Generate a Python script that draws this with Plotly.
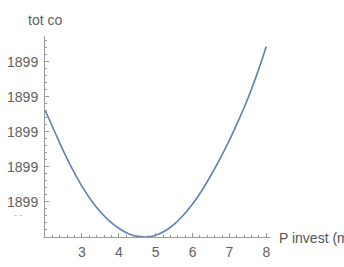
import plotly.graph_objects as go

# curve values (y in axis units above origin)
p_invest = [2.0, 2.25, 2.5, 2.75, 3.0, 3.25, 3.5, 3.75, 4.0, 4.25, 4.5, 4.75, 5.0, 5.25, 5.5,
            5.75, 6.0, 6.25, 6.5, 6.75, 7.0, 7.25, 7.5, 7.75, 8.0]
tot_co = [3.62, 3.03, 2.45, 1.92, 1.45, 1.05, 0.72, 0.45, 0.25, 0.10, 0.02, 0.0, 0.05, 0.17, 0.36,
          0.62, 0.94, 1.32, 1.76, 2.24, 2.76, 3.33, 3.95, 4.65, 5.43]
x_ticks = [3, 4, 5, 6, 7, 8]
y_ticks = [1, 2, 3, 4, 5]
y_labels = ["1899"] * 5

fig = go.Figure()
fig.add_trace(go.Scatter(x=p_invest, y=tot_co, mode="lines",
                         line=dict(color="#5E81B5", width=1.6, shape="spline"), hoverinfo="skip"))

axis_color = "#9a9a9a"
font = dict(family="Liberation Sans, Arial, sans-serif", size=14, color="#606060")
fig.update_layout(
    width=344, height=267,
    margin=dict(l=45, r=74, t=36, b=30),
    paper_bgcolor="white", plot_bgcolor="white",
    showlegend=False,
    font=font,
    xaxis=dict(range=[2, 8.1], showgrid=False, zeroline=False, showline=True, linecolor=axis_color, linewidth=1,
               tickvals=x_ticks, ticks="inside", ticklen=4, tickcolor=axis_color, tickfont=font,
               ticklabelstandoff=2, automargin=False,
               minor=dict(tick0=2, dtick=0.2, ticks="inside", ticklen=2, tickcolor=axis_color, showgrid=False),
               fixedrange=True),
    yaxis=dict(range=[0, 5.73], showgrid=False, zeroline=False, showline=True, linecolor=axis_color, linewidth=1,
               tickvals=y_ticks, ticktext=y_labels, ticks="inside", ticklen=4, tickcolor=axis_color, tickfont=font,
               ticklabelstandoff=3, automargin=False,
               minor=dict(tick0=0, dtick=0.2, ticks="inside", ticklen=2, tickcolor=axis_color, showgrid=False),
               fixedrange=True),
    annotations=[
        dict(text="tot co", xref="paper", yref="paper", x=0.0, y=1.0, xanchor="center", yanchor="bottom", yshift=6,
             showarrow=False, font=font),
        dict(text="P invest (mil)", xref="paper", yref="paper", x=1.0, y=0.0, xanchor="left", yanchor="middle",
             xshift=7, yshift=-1, showarrow=False, font=dict(family=font["family"], size=14, color="#555555")),
        dict(text="- -", xref="paper", yref="y", x=0.0, y=0.64, xanchor="right", yanchor="middle", xshift=-20,
             showarrow=False, font=dict(family=font["family"], size=9, color="#aaaaaa")),
    ],
)
fig.write_html("out.html")
